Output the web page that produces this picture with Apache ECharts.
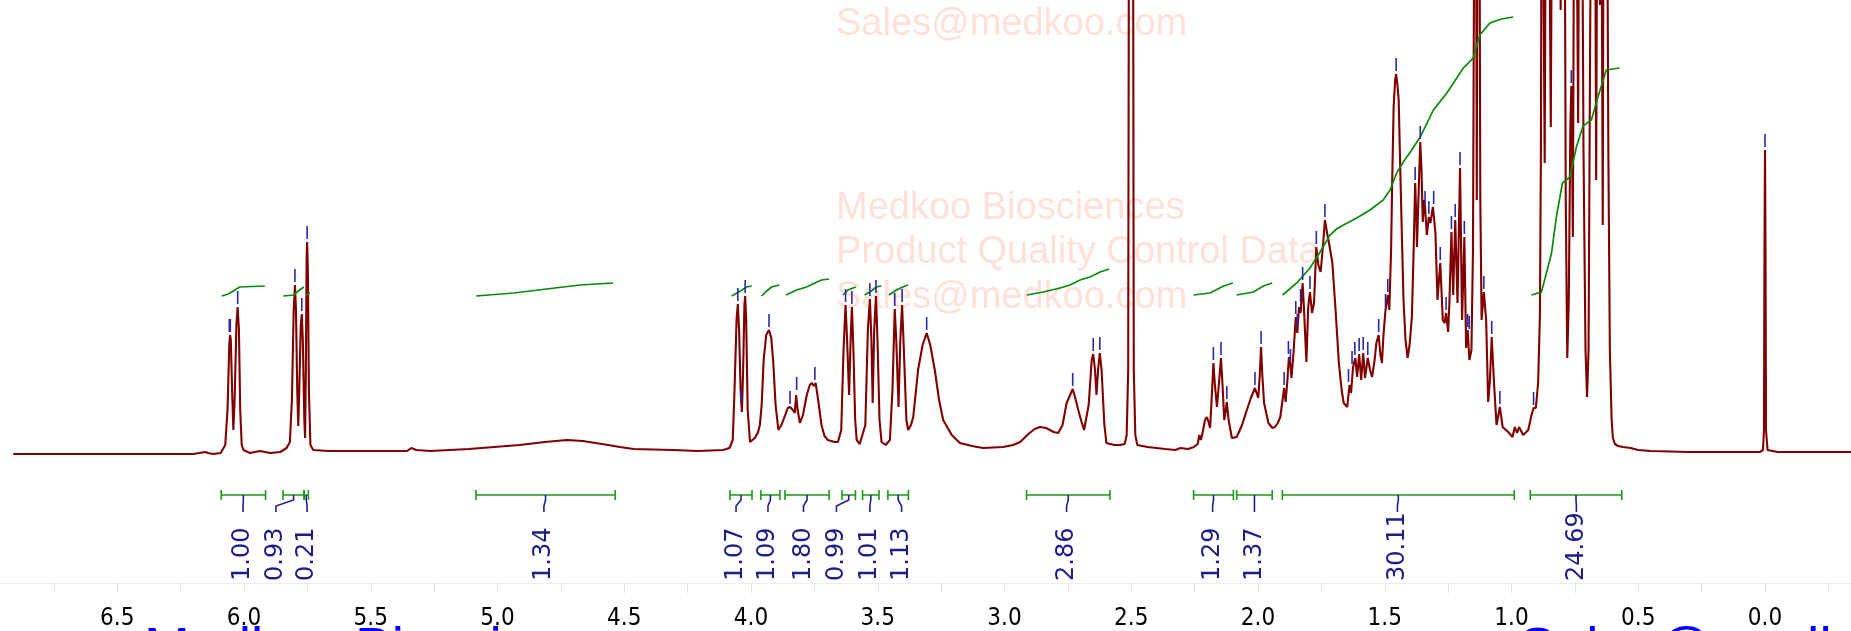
<!DOCTYPE html>
<html>
<head>
<meta charset="utf-8">
<script src="https://cdn.jsdelivr.net/npm/echarts@6/dist/echarts.min.js"></script>
<style>
html,body{margin:0;padding:0;background:#fff;}
#chart{width:1851px;height:631px;}
</style>
</head>
<body>
<div id="chart"></div>
<script>
// ---- 1H NMR spectrum: [ppm, intensity] ----
const spectrum = [
[6.910,-4],[6.500,-4],[6.200,-4],[6.152,-2],[6.142,-3],[6.122,-4],[6.092,-3],[6.074,5],[6.065,40],[6.058,105],[6.055,115],[6.052,110],[6.047,60],[6.042,20],[6.037,50],[6.030,125],[6.025,143],[6.020,120],[6.015,40],[6.009,5],[6.002,0],[5.977,-3],[5.937,-1],[5.897,-3],[5.857,-2],[5.832,2],[5.819,8],[5.811,50],[5.804,140],[5.799,165],[5.795,140],[5.790,60],[5.786,24],[5.782,60],[5.776,125],[5.772,136],[5.768,110],[5.762,30],[5.759,12],[5.756,80],[5.753,190],[5.751,208],[5.748,180],[5.744,60],[5.738,5],[5.727,0],[5.667,-1],[5.517,-1],[5.357,-1],[5.340,2],[5.333,3],[5.320,0],[5.264,-1],
[5.113,1],[5.013,3],[4.913,5],[4.813,8],[4.726,10],[4.663,9],[4.563,5],[4.518,3],[4.462,1],[4.310,0],[4.210,-1],
[4.110,0],[4.085,2],[4.072,10],[4.065,60],[4.057,130],[4.052,146],[4.047,120],[4.041,60],[4.036,38],[4.031,80],[4.026,145],[4.023,154],[4.019,130],[4.013,40],[4.004,8],[3.985,12],[3.972,18],[3.965,25],[3.958,45],[3.950,90],[3.940,115],[3.929,120],[3.920,112],[3.912,87],[3.903,45],[3.892,20],[3.880,25],[3.865,35],[3.855,42],[3.846,43],[3.835,40],[3.827,37],[3.822,55],[3.820,57],[3.816,40],[3.807,27],[3.795,35],[3.780,55],[3.768,65],[3.760,67],[3.752,64],[3.745,67],[3.735,50],[3.722,25],[3.710,14],[3.697,10],[3.670,8],[3.657,8],[3.644,20],[3.635,100],[3.627,145],[3.621,110],[3.613,55],[3.607,110],[3.602,143],[3.596,100],[3.589,30],[3.583,10],[3.571,6],[3.564,8],[3.549,25],[3.539,120],[3.531,151],[3.525,110],[3.520,47],[3.514,120],[3.507,154],[3.501,110],[3.493,30],[3.485,8],[3.469,5],[3.452,10],[3.442,60],[3.433,141],[3.427,110],[3.418,43],[3.411,110],[3.404,145],[3.397,100],[3.387,30],[3.380,20],[3.369,25],[3.360,33],[3.349,60],[3.341,80],[3.323,105],[3.307,117],[3.293,105],[3.275,80],[3.258,50],[3.242,30],[3.208,15],[3.176,7],[3.128,4],[3.085,2],
[3.006,3],[2.966,5],[2.938,8],[2.906,16],[2.881,21],[2.860,23],[2.836,22],[2.806,18],[2.788,17],[2.771,25],[2.755,47],[2.741,55],[2.731,61],[2.724,55],[2.709,40],[2.696,28],[2.686,20],[2.679,18],[2.668,45],[2.656,90],[2.650,96],[2.643,80],[2.637,55],[2.631,80],[2.624,97],[2.617,80],[2.606,25],[2.598,7],[2.566,5],[2.545,5],[2.526,6],[2.518,15],[2.512,80],[2.507,900],[2.495,900],[2.490,80],[2.484,15],[2.476,5],[2.436,3],
[2.366,1],[2.326,0],[2.306,2],[2.276,1],[2.253,3],[2.238,6],[2.231,15],[2.225,10],[2.218,18],[2.209,30],[2.202,33],[2.195,28],[2.189,22],[2.183,50],[2.176,87],[2.170,65],[2.162,43],[2.153,70],[2.146,92],[2.140,65],[2.133,30],[2.128,38],[2.123,48],[2.116,30],[2.103,12],[2.084,13],[2.063,25],[2.044,40],[2.028,52],[2.012,62],[2.005,60],[1.999,52],[1.993,75],[1.988,103],[1.983,75],[1.976,47],[1.959,27],[1.943,22],[1.933,23],[1.922,27],[1.912,33],
[1.897,62],[1.891,48],[1.884,70],[1.878,93],[1.872,85],[1.868,72],[1.860,97],[1.851,133],[1.845,117],[1.838,143],[1.832,137],[1.824,167],[1.819,143],[1.809,88],[1.802,143],[1.795,158],[1.787,137],[1.779,147],[1.770,203],[1.762,185],[1.753,178],[1.745,200],[1.736,230],[1.728,218],[1.720,207],[1.707,188],[1.694,140],[1.681,87],[1.670,60],[1.662,47],[1.648,43],[1.639,65],[1.633,57],[1.625,83],[1.616,92],[1.609,73],[1.601,96],[1.593,70],[1.585,97],[1.578,72],[1.567,92],[1.558,80],[1.550,73],[1.540,90],[1.533,107],[1.524,115],[1.517,95],[1.511,87],[1.505,115],[1.497,140],[1.488,155],[1.482,140],[1.475,200],[1.471,263],[1.465,343],[1.459,370],[1.455,376],[1.450,365],[1.445,350],[1.439,283],[1.432,210],[1.426,150],[1.418,110],[1.410,92],[1.402,105],[1.393,133],[1.386,200],[1.380,267],[1.375,230],[1.373,203],[1.366,260],[1.360,308],[1.355,280],[1.350,228],[1.344,250],[1.341,243],[1.334,215],[1.326,233],[1.320,227],[1.310,243],[1.300,217],[1.292,150],[1.281,187],[1.271,130],[1.264,127],[1.258,137],[1.250,118],[1.245,147],[1.237,218],[1.230,155],[1.222,230],[1.213,147],[1.203,282],[1.195,130],[1.186,213],[1.179,102],[1.173,120],[1.166,90],[1.158,100],[1.152,200],[1.146,600],[1.143,800],[1.140,600],[1.137,250],[1.134,600],[1.130,800],[1.127,600],[1.123,250],[1.118,130],[1.109,158],[1.100,130],[1.092,48],[1.085,70],[1.078,113],[1.069,67],[1.059,25],[1.046,43],[1.035,23],[1.013,18],[0.996,13],[0.987,23],[0.978,17],[0.970,23],[0.954,15],[0.934,20],[0.921,35],[0.913,42],[0.904,42],[0.895,67],[0.888,133],[0.884,300],[0.880,700],[0.875,700],[0.869,287],[0.863,700],[0.855,700],[0.845,323],[0.838,700],[0.815,700],[0.806,440],[0.800,700],[0.792,700],[0.786,250],[0.780,92],[0.774,150],[0.768,320],[0.764,364],[0.761,300],[0.758,213],[0.754,500],[0.748,700],[0.742,700],[0.737,327],[0.732,700],[0.724,700],[0.716,300],[0.708,100],[0.702,53],[0.696,100],[0.690,400],[0.683,700],[0.672,700],[0.666,270],[0.660,700],[0.655,700],[0.651,445],[0.647,700],[0.643,700],[0.640,225],[0.636,700],[0.625,700],[0.618,300],[0.612,100],[0.605,30],[0.600,12],[0.592,6],[0.580,4],[0.560,3],[0.530,2],[0.500,0],[0.450,-1],[0.300,-2],[0.100,-2],[0.020,-2],[0.008,0],[0.004,20],[0.002,200],[0.000,300],[-0.002,200],[-0.004,20],[-0.010,0],[-0.050,-2],[-0.340,-2]
];

// ---- integral curves (green S-curves) ----
const integralCurves = [
 [[6.088,154],[6.062,156],[6.042,159],[6.018,163],[5.918,164]],
 [[5.845,154],[5.804,155],[5.786,159],[5.764,163]],
 [[5.756,155],[5.740,157]],
 [[5.084,154],[4.937,157],[4.806,161],[4.675,165],[4.544,167]],
 [[4.076,154],[4.056,157],[4.036,160],[4.017,163],[3.997,164]],
 [[3.958,154],[3.938,159],[3.919,163],[3.888,165]],
 [[3.862,155],[3.820,160],[3.781,163],[3.748,167],[3.722,170],[3.692,171]],
 [[3.637,155],[3.617,160],[3.587,163]],
 [[3.552,155],[3.525,159],[3.506,163],[3.486,164]],
 [[3.456,155],[3.427,160],[3.401,163],[3.381,165]],
 [[2.912,155],[2.847,158],[2.781,162],[2.742,165],[2.702,170],[2.663,173],[2.623,178],[2.587,181]],
 [[2.254,155],[2.189,157],[2.136,164],[2.099,167]],
 [[2.084,155],[2.018,158],[1.979,164],[1.944,167]],
 [[1.903,155],[1.847,167],[1.795,182],[1.755,198],[1.716,215],[1.690,221],[1.663,225],[1.611,232],[1.558,240],[1.506,250],[1.479,260],[1.453,277],[1.427,288],[1.399,298],[1.360,313],[1.308,340],[1.255,357],[1.190,382],[1.151,392],[1.125,415],[1.085,427],[1.040,431],[0.993,433]],
 [[0.921,155],[0.882,158],[0.862,177],[0.842,197],[0.823,233],[0.799,267],[0.770,273],[0.744,303],[0.718,324],[0.685,330],[0.659,353],[0.626,380],[0.574,382]]
];

// ---- integral ranges, label positions and values ----
const integralRanges = [[6.090,5.915],[5.846,5.763],[5.763,5.746],[5.085,4.536],[4.083,3.996],[3.961,3.886],[3.866,3.692],[3.641,3.588],[3.560,3.495],[3.460,3.379],[2.913,2.584],[2.254,2.097],[2.084,1.944],[1.904,0.989],[0.926,0.565]];
const integralLabelPpm = [6.004,5.874,5.751,4.817,4.059,3.933,3.793,3.663,3.531,3.406,2.755,2.179,2.014,1.450,0.744];
const integralValues = ['1.00','0.93','0.21','1.34','1.07','1.09','1.80','0.99','1.01','1.13','2.86','1.29','1.37','30.11','24.69'];

// ---- peak picks: [ppm, peak height] ----
const peakPicks = [
 [6.058,115],[6.054,115],[6.025,143],[5.799,165],[5.772,136],[5.751,208],
 [4.052,146],[4.040,45],[4.023,154],[3.929,120],[3.846,43],[3.820,57],[3.748,67],[3.627,145],[3.602,143],[3.531,151],[3.507,154],[3.433,141],[3.404,145],[3.307,117],
 [2.731,61],[2.650,96],[2.624,97],
 [2.176,87],[2.146,92],[2.123,48],[2.012,62],[1.988,103],
 [1.897,62],[1.880,93],[1.872,85],[1.851,133],[1.845,120],[1.832,145],[1.824,167],[1.795,158],[1.770,203],[1.736,230],
 [1.643,65],[1.629,83],[1.618,92],[1.601,96],[1.585,97],[1.567,92],[1.524,115],[1.497,140],[1.488,155],[1.455,376],[1.380,267],[1.360,308],[1.341,243],[1.326,233],[1.307,243],[1.281,187],[1.258,137],[1.237,218],[1.222,230],[1.203,282],[1.186,213],[1.173,120],[1.167,118],[1.109,158],[1.078,113],[1.046,43],[0.913,42],[0.764,364],[0.000,300]
];

// ---- axis tick labels ----
const tickLabels = ['6.5','6.0','5.5','5.0','4.5','4.0','3.5','3.0','2.5','2.0','1.5','1.0','0.5','0.0'];

const BRACKET_Y = -45;
const chart = echarts.init(document.getElementById('chart'), null, {renderer:'canvas', width:1851, height:631});

const bracketLines = [];
integralRanges.forEach(([a,b]) => {
  bracketLines.push({coords:[[a,BRACKET_Y],[b,BRACKET_Y]]});
  bracketLines.push({coords:[[a,BRACKET_Y+5],[a,BRACKET_Y-5]]});
  bracketLines.push({coords:[[b,BRACKET_Y+5],[b,BRACKET_Y-5]]});
});
const connectors = integralRanges.map(([a,b], i) => {
  const c = (a+b)/2, l = integralLabelPpm[i];
  return {coords:[[c,BRACKET_Y],[c,BRACKET_Y-5],[l,BRACKET_Y-11],[l,BRACKET_Y-17]]};
});
const markers = peakPicks.map(([p,t]) => ({coords:[[p,t+3],[p,t+16]]}));

chart.setOption({
  animation:false,
  backgroundColor:'#ffffff',
  grid:{left:-9.5,right:-40.75,top:0,bottom:48,containLabel:false,outerBoundsMode:'none'},
  xAxis:{
    type:'value', inverse:true, min:-0.5, max:7.0, interval:0.25,
    axisLine:{show:true, onZero:false, lineStyle:{color:'#ececec', width:1}},
    axisTick:{show:true, length:10, lineStyle:{color:'#e2e2e2', width:1}},
    splitLine:{show:false},
    axisLabel:{
      color:'#000', fontFamily:'"DejaVu Sans Condensed", "DejaVu Sans", sans-serif', fontSize:24, margin:24,
      formatter:function(v){
        const s = Math.abs(v).toFixed(1);
        return tickLabels.indexOf(s) >= 0 && Math.abs(v*2 - Math.round(v*2)) < 1e-6 && v > -0.01 ? s : '';
      }
    }
  },
  yAxis:{type:'value', min:-133, max:450, show:false},
  series:[
    {type:'line', data:spectrum, showSymbol:false, symbol:'none', clip:true,
     lineStyle:{color:'#800000', width:2.1}, z:3},
    {type:'lines', coordinateSystem:'cartesian2d', polyline:true, data:integralCurves.map(c=>({coords:c})),
     lineStyle:{color:'#0a8a0a', width:1.7, opacity:1}, z:4},
    {type:'lines', coordinateSystem:'cartesian2d', polyline:true, data:bracketLines,
     lineStyle:{color:'#1a9a1a', width:1.6, opacity:1}, z:4},
    {type:'lines', coordinateSystem:'cartesian2d', polyline:true, data:connectors,
     lineStyle:{color:'#20208c', width:1.6, opacity:1}, z:4},
    {type:'lines', coordinateSystem:'cartesian2d', polyline:true, data:markers,
     lineStyle:{color:'#2a2aa6', width:1.6, opacity:1}, z:4}
  ]
});

const elements = [];
const wm = {fill:'rgba(255,200,185,0.55)', font:'38px "Liberation Sans", Arial, sans-serif', align:'left', verticalAlign:'middle'};
[['Sales@medkoo.com',25],['Medkoo Biosciences',209],['Product Quality Control Data',253],['Sales@medkoo.com',298]].forEach(([t,y]) => {
  elements.push({type:'text', x:836, y:y, z:0, style:Object.assign({text:t}, wm)});
});
const big = {fill:'#0000ff', font:'55px "Liberation Sans", Arial, sans-serif', align:'left', verticalAlign:'middle'};
elements.push({type:'text', x:144, y:651, style:Object.assign({text:'Medkoo Biosciences'}, big)});
elements.push({type:'text', x:1519, y:651, style:Object.assign({text:'Sales@medkoo.com'}, big)});

integralLabelPpm.forEach((p, i) => {
  const px = chart.convertToPixel({xAxisIndex:0, yAxisIndex:0}, [p, -131]);
  elements.push({type:'text', x:px[0], y:px[1], rotation:Math.PI/2, z:10,
    style:{text:integralValues[i], fill:'#1c1c8a', font:'24px "DejaVu Sans", sans-serif', align:'left', verticalAlign:'middle'}});
});
chart.setOption({graphic:{elements:elements}});
</script>
</body>
</html>
